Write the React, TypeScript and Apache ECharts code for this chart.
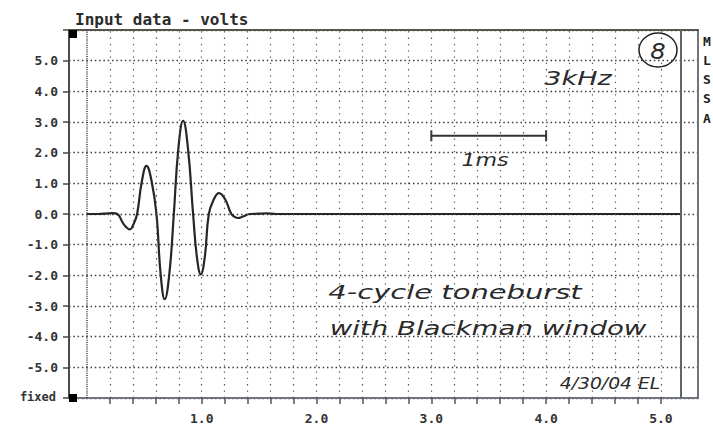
import React, { useEffect, useRef } from "react";
import * as echarts from "echarts";

// ---- data ----
const TIME_MS = [0, 0.1, 0.18, 0.22, 0.265, 0.32, 0.375, 0.406, 0.437, 0.478, 0.519, 0.562, 0.606, 0.642, 0.678, 0.718, 0.757, 0.797, 0.838, 0.88, 0.925, 0.958, 0.992, 1.027, 1.062, 1.106, 1.15, 1.204, 1.258, 1.29, 1.315, 1.36, 1.42, 1.5, 1.56, 1.65, 5.175];
const VOLTS = [0, 0, 0.02, 0.03, 0.0, -0.33, -0.5, -0.33, 0, 1.05, 1.57, 1.1, 0, -1.95, -2.78, -1.95, 0, 2.15, 3.04, 2.15, 0, -1.4, -1.97, -1.4, 0, 0.48, 0.68, 0.48, 0, -0.1, -0.13, -0.08, 0, 0.01, 0.02, 0, 0];

const X_MIN = -0.156;
const X_MAX = 5.323;
const X_CURSOR = 5.175;
const X_LABELS = [1, 2, 3, 4, 5];
const X_TICKS = [0.2, 0.4, 0.6, 0.8, 1.0, 1.2, 1.4, 1.6, 1.8, 2.0, 2.2, 2.4, 2.6, 2.8, 3.0, 3.2, 3.4, 3.6, 3.8, 4.0, 4.2, 4.4, 4.6, 4.8, 5.0];
const X_GRID = [0, 0.2, 0.4, 0.6, 0.8, 1.0, 1.2, 1.4, 1.6, 1.8, 2.0, 2.2, 2.4, 2.6, 2.8, 3.0, 3.2, 3.4, 3.6, 3.8, 4.0, 4.2, 4.4, 4.6, 4.8, 5.0];
const Y_MIN = -6;
const Y_MAX = 6;
const SCALE_BAR_X = [3.0, 4.0];
const SCALE_BAR_Y = 2.55;
const SIDE_LETTERS = ["M", "L", "S", "S", "A"];

const MONO = "'DejaVu Sans Mono', 'Liberation Mono', monospace";
const HAND = "'DejaVu Sans', 'Liberation Sans', sans-serif";

export default function App() {
  const ref = useRef<HTMLDivElement>(null);
  useEffect(() => {
    if (!ref.current) return;
    const chart = echarts.init(ref.current, undefined, { renderer: "svg" });
    const curve = TIME_MS.map((t, i) => [t, VOLTS[i]]);
    const hand = (text: string, x: number, y: number, size: number, sx: number) => ({
      type: "text",
      x,
      y,
      scaleX: sx,
      style: {
        text,
        fill: "#2a2a2a",
        font: `italic 300 ${size}px ${HAND}`,
        textAlign: "center",
        textVerticalAlign: "middle",
      },
    });
    const option: any = {
      animation: false,
      backgroundColor: "#ffffff",
      grid: { left: 69, right: 15, top: 30, bottom: 24 },
      xAxis: [
        {
          type: "value",
          min: X_MIN,
          max: X_MAX,
          position: "bottom",
          axisLine: { show: true, onZero: false, lineStyle: { color: "#70747f", width: 2 } },
          axisTick: { show: true, customValues: X_TICKS, length: 6, lineStyle: { color: "#555", width: 1.5 } },
          axisLabel: {
            customValues: X_LABELS,
            formatter: (v: number) => v.toFixed(1),
            color: "#333",
            fontFamily: MONO,
            fontWeight: "bold",
            fontSize: 13,
            margin: 14,
          },
          splitLine: { show: false },
        },
        {
          type: "value",
          min: X_MIN,
          max: X_MAX,
          position: "top",
          axisLine: { show: true, onZero: false, lineStyle: { color: "#55554a", width: 2 } },
          axisTick: { show: false },
          axisLabel: { show: false },
          splitLine: { show: false },
        },
      ],
      yAxis: [
        {
          type: "value",
          min: Y_MIN,
          max: Y_MAX,
          interval: 1,
          axisLine: { show: true, onZero: false, lineStyle: { color: "#4d4d40", width: 2 } },
          axisTick: { show: true, length: 6, lineStyle: { color: "#444", width: 1.5 } },
          axisLabel: {
            formatter: (v: number) => (Math.abs(v) <= 5 ? v.toFixed(1) : ""),
            color: "#333",
            fontFamily: MONO,
            fontWeight: "bold",
            fontSize: 13,
            margin: 11,
          },
          splitLine: { show: true, lineStyle: { color: "#3a3a3a", width: 1.3, type: [1.5, 2.8] } },
        },
        {
          type: "value",
          min: Y_MIN,
          max: Y_MAX,
          position: "right",
          axisLine: { show: true, onZero: false, lineStyle: { color: "#70747f", width: 2 } },
          axisTick: { show: false },
          axisLabel: { show: false },
          splitLine: { show: false },
        },
      ],
      series: [
        {
          type: "line",
          data: [],
          silent: true,
          z: 1,
          markLine: {
            silent: true,
            symbol: ["none", "none"],
            label: { show: false },
            animation: false,
            data: [
              ...X_GRID.map((v) => ({
                xAxis: v,
                lineStyle: v === 0
                  ? { color: "#333", width: 1.5, type: [1, 1.2] }
                  : { color: "#555", width: 1.2, type: [1.3, 5] },
              })),
              { xAxis: X_CURSOR, lineStyle: { color: "#60646e", width: 2, type: "solid" } },
            ],
          },
        },
        {
          type: "line",
          data: curve,
          showSymbol: false,
          smooth: 0.45,
          z: 3,
          lineStyle: { color: "#262626", width: 2.2 },
        },
        {
          type: "line",
          data: SCALE_BAR_X.map((x) => [x, SCALE_BAR_Y]),
          symbol: "rect",
          symbolSize: [2, 11],
          showSymbol: true,
          z: 3,
          itemStyle: { color: "#333" },
          lineStyle: { color: "#333", width: 2 },
        },
      ],
      graphic: [
        {
          type: "text",
          x: 75,
          y: 19,
          style: { text: "Input data - volts", fill: "#2b2b2b", font: `bold 16px ${MONO}`, textVerticalAlign: "middle" },
        },
        { type: "rect", shape: { x: 69, y: 30, width: 8, height: 8 }, style: { fill: "#000" }, z: 10 },
        { type: "rect", shape: { x: 69, y: 394, width: 8, height: 8 }, style: { fill: "#000" }, z: 10 },
        {
          type: "text",
          x: 56,
          y: 397,
          style: { text: "fixed", fill: "#333", font: `bold 12px ${MONO}`, textAlign: "right", textVerticalAlign: "middle" },
        },
        ...SIDE_LETTERS.map((l, i) => ({
          type: "text",
          x: 703,
          y: 41 + i * 19.3,
          style: { text: l, fill: "#222", font: `bold 13px ${MONO}`, textVerticalAlign: "middle" },
        })),
        { type: "ellipse", shape: { cx: 658, cy: 50, rx: 19, ry: 17 }, style: { fill: "none", stroke: "#222", lineWidth: 1.5 } },
        hand("8", 658, 51, 22, 1.1),
        hand("3kHz", 578, 78, 20, 1.35),
        hand("1ms", 485, 160, 17, 1.3),
        hand("4-cycle toneburst", 455, 292, 20, 1.45),
        hand("with Blackman window", 488, 328, 20, 1.38),
        hand("4/30/04 EL", 610, 384, 15, 1.25),
      ],
    };
    chart.setOption(option);
    return () => chart.dispose();
  }, []);
  return (
    <div
      ref={ref}
      style={{ position: "fixed", left: 0, top: 0, width: 713, height: 425, background: "#fff" }}
    />
  );
}
